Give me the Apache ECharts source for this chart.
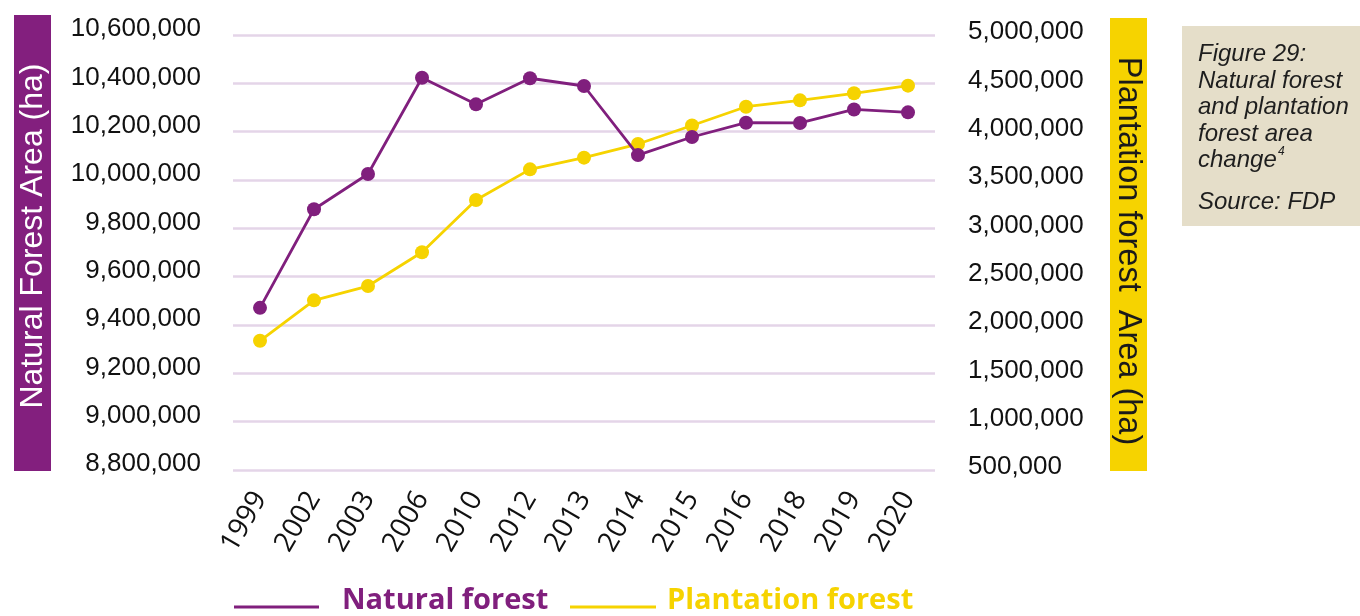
<!DOCTYPE html>
<html>
<head>
<meta charset="utf-8">
<title>Natural forest and plantation forest area change</title>
<script src="https://cdn.jsdelivr.net/npm/echarts@6/dist/echarts.min.js"></script>
<style>
  html, body { margin: 0; padding: 0; background: #ffffff; }
  #chart { width: 1360px; height: 616px; }
</style>
</head>
<body>
<div id="chart"></div>
<script>
// Survey years (category axis)
const years = ['1999', '2002', '2003', '2006', '2010', '2012', '2013', '2014', '2015', '2016', '2018', '2019', '2020'];

// Natural forest area (ha), left axis
const naturalForest = [9471000, 9879000, 10025000, 10423000, 10313000, 10421000, 10389000, 10103000, 10178000, 10237000, 10236000, 10292000, 10280000];

// Plantation forest area (ha), right axis
const plantationForest = [1837000, 2255000, 2403000, 2752000, 3293000, 3610000, 3731000, 3872000, 4064000, 4258000, 4324000, 4397000, 4476000];

// Axis ranges: [min, max, step]
const naturalAxis = [8800000, 10600000, 200000];
const plantationAxis = [500000, 5000000, 500000];

// Caption text
const captionLines = ['Figure 29:', 'Natural forest', 'and plantation', 'forest area', 'change'];
const captionNote = '4';
const captionSource = 'Source: FDP';

const PURPLE = '#801f7d';
const YELLOW = '#f6d300';
const GRID = '#e4d5e8';

const fmt = v => Number(v).toLocaleString('en-US');

const chart = echarts.init(document.getElementById('chart'), null, { renderer: 'canvas' });

// legend icon: a 3px line sitting low in a taller, partly blank box
function legendIcon(boxW, lineW) {
  return 'path://M0,0 M' + boxW + ',28 M0,19 L' + lineW + ',19 L' + lineW + ',22 L0,22 Z';
}

const legendText = color => ({ color: color, fontFamily: 'Open Sans', fontWeight: 'bold', fontSize: 29 });

const option = {
  animation: false,
  backgroundColor: '#ffffff',
  grid: { left: 233, right: 425, top: 35, bottom: 146, containLabel: false },
  legend: [
    {
      left: 234, top: 586, padding: 0, orient: 'horizontal',
      itemWidth: 103, itemHeight: 28,
      data: [{ name: 'Natural forest', icon: legendIcon(103, 85) }],
      textStyle: legendText(PURPLE),
      selectedMode: false
    },
    {
      left: 570, top: 586, padding: 0, orient: 'horizontal',
      itemWidth: 92, itemHeight: 28,
      data: [{ name: 'Plantation forest', icon: legendIcon(92, 86) }],
      textStyle: legendText(YELLOW),
      selectedMode: false
    }
  ],
  xAxis: {
    type: 'category',
    data: years,
    boundaryGap: true,
    axisLine: { show: false },
    axisTick: { show: false },
    axisLabel: {
      interval: 0, rotate: 60, margin: 24,
      color: '#111111', fontFamily: 'Open Sans', fontSize: 28
    },
    splitLine: { show: false }
  },
  yAxis: [
    {
      type: 'value', position: 'left',
      min: naturalAxis[0], max: naturalAxis[1], interval: naturalAxis[2],
      axisLine: { show: false }, axisTick: { show: false },
      axisLabel: {
        margin: 32, color: '#111111', fontFamily: 'Liberation Sans, Arial, sans-serif', fontSize: 26,
        verticalAlign: 'bottom', lineHeight: 12,
        formatter: fmt
      },
      splitLine: { show: true, lineStyle: { color: GRID, width: 2.5 } }
    },
    {
      type: 'value', position: 'right',
      min: plantationAxis[0], max: plantationAxis[1], interval: plantationAxis[2],
      axisLine: { show: false }, axisTick: { show: false },
      axisLabel: {
        margin: 33, color: '#111111', fontFamily: 'Liberation Sans, Arial, sans-serif', fontSize: 26,
        verticalAlign: 'bottom', lineHeight: 6,
        formatter: fmt
      },
      splitLine: { show: false }
    }
  ],
  series: [
    {
      name: 'Plantation forest', type: 'line', yAxisIndex: 1,
      data: plantationForest,
      symbol: 'circle', symbolSize: 14,
      lineStyle: { color: YELLOW, width: 2.8 },
      itemStyle: { color: YELLOW },
      z: 2
    },
    {
      name: 'Natural forest', type: 'line', yAxisIndex: 0,
      data: naturalForest,
      symbol: 'circle', symbolSize: 14,
      lineStyle: { color: PURPLE, width: 2.8 },
      itemStyle: { color: PURPLE },
      z: 3
    }
  ],
  graphic: [
    // left axis title band
    { type: 'rect', shape: { x: 14, y: 15, width: 37, height: 456 }, style: { fill: '#831f7e' }, silent: true },
    {
      type: 'text', x: 33, y: 236, rotation: Math.PI / 2,
      style: {
        text: 'Natural Forest Area (ha)', fill: '#ffffff',
        font: '32px "Liberation Sans", Arial, sans-serif',
        textAlign: 'center', textVerticalAlign: 'middle'
      },
      silent: true
    },
    // right axis title band
    { type: 'rect', shape: { x: 1110, y: 18, width: 37, height: 453 }, style: { fill: '#f6d300' }, silent: true },
    {
      type: 'text', x: 1128, y: 251, rotation: -Math.PI / 2,
      style: {
        text: 'Plantation forest  Area (ha)', fill: '#1a1a1a',
        font: '32.5px "Liberation Sans", Arial, sans-serif',
        textAlign: 'center', textVerticalAlign: 'middle'
      },
      silent: true
    },
    // caption box
    { type: 'rect', shape: { x: 1182, y: 26, width: 178, height: 200 }, style: { fill: '#e5dec9' }, silent: true },
    {
      type: 'text', x: 1198, y: 41.5,
      style: {
        text: captionLines.join('\n'), fill: '#1e1e1e',
        font: 'italic 24px "Liberation Sans", Arial, sans-serif',
        lineHeight: 26.5, textAlign: 'left', textVerticalAlign: 'top'
      },
      silent: true
    },
    {
      type: 'text', x: 1278, y: 152,
      style: {
        text: captionNote, fill: '#1e1e1e',
        font: 'italic 12px "Liberation Sans", Arial, sans-serif',
        textAlign: 'left', textVerticalAlign: 'middle'
      },
      silent: true
    },
    {
      type: 'text', x: 1198, y: 202,
      style: {
        text: captionSource, fill: '#1e1e1e',
        font: 'italic 24px "Liberation Sans", Arial, sans-serif',
        textAlign: 'left', textVerticalAlign: 'middle'
      },
      silent: true
    }
  ]
};

chart.setOption(option);
</script>
</body>
</html>
